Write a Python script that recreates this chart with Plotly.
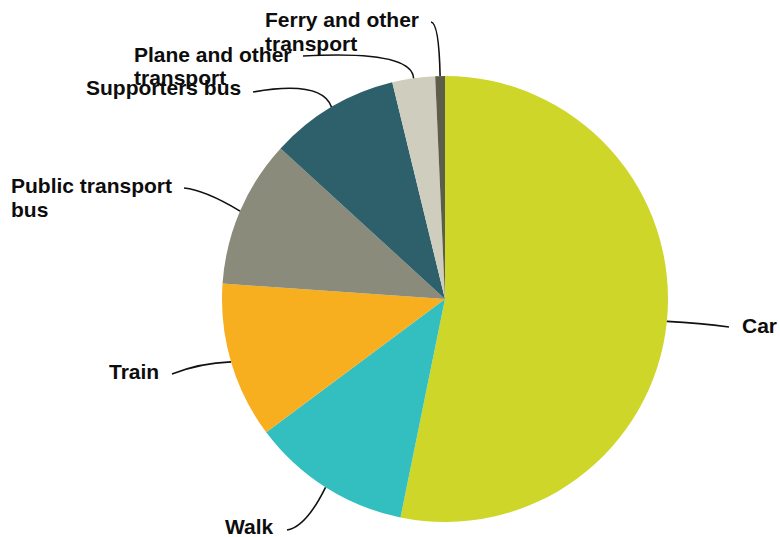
import math
import plotly.graph_objects as go

# Share of supporters by mode of travel (%)
modes = ["Car", "Walk", "Train", "Public transport bus", "Supporters bus",
         "Plane and other transport", "Ferry and other transport"]
shares = [53.2, 11.6, 11.3, 10.7, 9.4, 3.1, 0.7]
colors = ["#CFD62A", "#33BEC0", "#F7AE1F", "#8A8B7A", "#2E606C", "#CFCDBE", "#5C5E4A"]

# Label text lines for each slice
label_lines = [
    ["Car"],
    ["Walk"],
    ["Train"],
    ["Public transport", "bus"],
    ["Supporters bus"],
    ["Plane and other", "transport"],
    ["Ferry and other", "transport"],
]

W, H = 780, 537
CX, CY, R = 445, 299, 223  # pie centre and radius in pixels

# Label placement (pixels): text edge x, first-line centre y, alignment,
# leader end point and curve control point
label_layout = [
    dict(tx=743, ty=325, align="left", end=(729, 327), ctrl=(700, 323)),
    dict(tx=273, ty=526, align="right", end=(287, 530), ctrl=(306, 527)),
    dict(tx=158, ty=371, align="right", end=(172, 374), ctrl=(200, 363)),
    dict(tx=12, ty=186, align="left", end=(184, 188), ctrl=(205, 190)),
    dict(tx=240, ty=87, align="right", end=(253, 92), ctrl=(322, 80)),
    dict(tx=135, ty=54, align="left", end=(303, 56), ctrl=(412, 50)),
    dict(tx=266, ty=20, align="left", end=(431, 22), ctrl=(439, 23)),
]
LINE_GAP = 23.5
TEXT_PAD = 3  # annotation box padding around the text
FONT = dict(family="Liberation Sans, Arial, sans-serif", size=21, color="#0d0d0d")


def px(x):
    return x / W


def py(y):
    return 1 - y / H


fig = go.Figure(go.Pie(
    labels=modes,
    values=shares,
    sort=False,
    direction="clockwise",
    rotation=0,
    marker=dict(colors=colors, line=dict(width=0)),
    textinfo="none",
    hoverinfo="label+percent",
    showlegend=False,
    domain=dict(x=[px(CX - R), px(CX + R)], y=[py(CY + R), py(CY - R)]),
))

total = sum(shares)
cum = 0.0
shapes = []
annotations = []
for val, lines, lay in zip(shares, label_lines, label_layout):
    mid = (cum + val / 2) / total * 2 * math.pi
    cum += val
    sx = CX + R * math.sin(mid)
    sy = CY - R * math.cos(mid)
    ex, ey = lay["end"]
    cx, cy = lay["ctrl"]
    shapes.append(dict(
        type="path", xref="paper", yref="paper",
        path=f"M {px(sx)} {py(sy)} Q {px(cx)} {py(cy)} {px(ex)} {py(ey)}",
        line=dict(color="#111111", width=1.6),
    ))
    shift = TEXT_PAD if lay["align"] == "right" else -TEXT_PAD
    for i, line in enumerate(lines):
        annotations.append(dict(
            x=px(lay["tx"] + shift), y=py(lay["ty"] + i * LINE_GAP),
            xref="paper", yref="paper",
            text=f"<b>{line}</b>", showarrow=False,
            xanchor=lay["align"], yanchor="middle", align=lay["align"],
            font=FONT,
        ))

fig.update_layout(
    width=W, height=H,
    margin=dict(l=0, r=0, t=0, b=0),
    paper_bgcolor="white", plot_bgcolor="white",
    shapes=shapes, annotations=annotations,
)

fig.write_html("out.html")
